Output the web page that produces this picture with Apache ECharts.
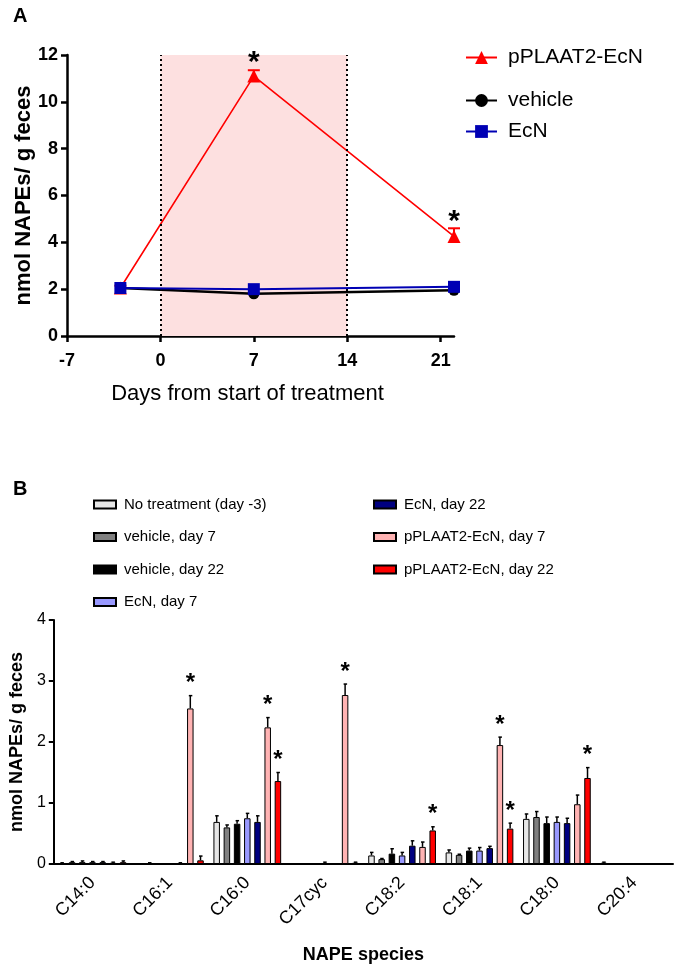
<!DOCTYPE html>
<html><head><meta charset="utf-8">
<script src="https://cdn.jsdelivr.net/npm/echarts@6/dist/echarts.min.js"></script>
<style>html,body{margin:0;padding:0;background:#fff}#c{width:678px;height:975px}</style>
</head><body><div id="c"></div>
<script>
// ---------- Panel A data ----------
const daysA = [-3, 7, 22];
const pplaat2A = [2.05, 11.1, 4.25];
const pplaat2ErrA = [0.1, 0.25, 0.35];
const vehicleA = [2.05, 1.8, 1.95];
const ecnA = [2.05, 2.0, 2.1];
const xTicksA = [-7, 0, 7, 14, 21];
const treatmentWindow = [0, 14];
const starsA = [1, 2]; // indices into daysA with significance

// ---------- Panel B data ----------
const speciesB = ['C14:0', 'C16:1', 'C16:0', 'C17cyc', 'C18:2', 'C18:1', 'C18:0', 'C20:4'];
const groupNamesB = ['No treatment (day -3)', 'vehicle, day 7', 'vehicle, day 22', 'EcN, day 7', 'EcN, day 22', 'pPLAAT2-EcN, day 7', 'pPLAAT2-EcN, day 22'];
const noTreatB  = [0.01, 0.00, 0.69, 0.00, 0.14, 0.19, 0.74, 0.02];
const veh7B     = [0.03, 0.01, 0.60, 0.00, 0.08, 0.15, 0.77, 0.00];
const veh22B    = [0.03, 0.00, 0.66, 0.00, 0.17, 0.22, 0.67, 0.00];
const ecn7B     = [0.03, 0.00, 0.75, 0.01, 0.14, 0.22, 0.69, 0.00];
const ecn22B    = [0.03, 0.01, 0.69, 0.00, 0.30, 0.26, 0.67, 0.00];
const pp7B      = [0.02, 2.55, 2.24, 2.77, 0.28, 1.95, 0.98, 0.00];
const pp22B     = [0.03, 0.06, 1.36, 0.02, 0.55, 0.58, 1.41, 0.00];
const noTreatErrB = [0.01, 0.00, 0.10, 0.00, 0.05, 0.04, 0.08, 0.01];
const veh7ErrB    = [0.01, 0.01, 0.04, 0.00, 0.01, 0.01, 0.09, 0.00];
const veh22ErrB   = [0.02, 0.00, 0.05, 0.00, 0.08, 0.04, 0.10, 0.00];
const ecn7ErrB    = [0.01, 0.00, 0.08, 0.02, 0.05, 0.05, 0.08, 0.00];
const ecn22ErrB   = [0.01, 0.01, 0.10, 0.00, 0.08, 0.03, 0.08, 0.00];
const pp7ErrB     = [0.01, 0.21, 0.16, 0.18, 0.08, 0.13, 0.15, 0.00];
const pp22ErrB    = [0.02, 0.07, 0.14, 0.01, 0.06, 0.09, 0.17, 0.00];
// [species index, group index] with significance
const starsB = [[1, 5], [2, 5], [2, 6], [3, 5], [4, 6], [5, 5], [5, 6], [6, 6]];

// ---------- styles ----------
const FONT = 'Liberation Sans, Arial, sans-serif';
const colorsB = ['#e6e6e6', '#808080', '#000000', '#9999ff', '#000080', '#ffb3b3', '#ff0000'];
const BAR_W = 6.5, BAR_GAP = 0.57, PITCH = BAR_W * (1 + BAR_GAP);

const valsB = [noTreatB, veh7B, veh22B, ecn7B, ecn22B, pp7B, pp22B];
const errsB = [noTreatErrB, veh7ErrB, veh22ErrB, ecn7ErrB, ecn22ErrB, pp7ErrB, pp22ErrB];

const chart = echarts.init(document.getElementById('c'), null, {renderer: 'canvas'});

const errDataA = daysA.map((d, i) => [d, pplaat2A[i], pplaat2A[i] + pplaat2ErrA[i]]);
const starDataA = starsA.map(i => [daysA[i], pplaat2A[i] + pplaat2ErrA[i]]);

const errDataB = [];
valsB.forEach((arr, g) => arr.forEach((v, c) => errDataB.push([c, v, v + errsB[g][c], g])));
const starDataB = starsB.map(([c, g]) => [c, valsB[g][c] + errsB[g][c], g]);

const barSeriesB = groupNamesB.map((name, g) => ({
  name, type: 'bar', xAxisIndex: 1, yAxisIndex: 1,
  data: valsB[g], barWidth: BAR_W, barGap: (BAR_GAP * 100) + '%',
  itemStyle: {color: colorsB[g], borderColor: '#000', borderWidth: 1},
  emphasis: {disabled: true}, z: 2
}));

const legA = (name, top) => ({data: [name], left: 460, top, itemWidth: 31, itemHeight: 16, selectedMode: false,
  textStyle: {fontSize: 21, color: '#000', padding: [0, 0, 0, 6]}});
const legB = (names, left) => ({data: names, orient: 'vertical', left, top: 491, itemWidth: 22, itemHeight: 8,
  icon: 'rect', itemGap: 15.5, selectedMode: false,
  textStyle: {fontSize: 15, lineHeight: 17, color: '#000', padding: [0, 0, 0, 3]}});

const option = {
  animation: false,
  textStyle: {fontFamily: FONT},
  graphic: [
    {type: 'text', left: 13, top: 6, style: {text: 'A', font: 'bold 20px ' + FONT, fill: '#000'}},
    {type: 'text', left: 13, top: 479, style: {text: 'B', font: 'bold 20px ' + FONT, fill: '#000'}}
  ],
  legend: [
    legA('pPLAAT2-EcN', 42), legA('vehicle', 85), legA('EcN', 116),
    legB(groupNamesB.slice(0, 4), 88), legB(groupNamesB.slice(4), 368)
  ],
  grid: [
    {left: 67, top: 55, width: 387, height: 281},
    {left: 51, top: 620, width: 622, height: 244}
  ],
  xAxis: [
    {type: 'value', gridIndex: 0, min: -7, max: 22,
     axisLine: {onZero: false, lineStyle: {color: '#000', width: 2.5}},
     axisTick: {customValues: xTicksA, length: 6, lineStyle: {width: 2.5, color: '#000'}},
     axisLabel: {customValues: xTicksA, fontSize: 18, fontWeight: 'bold', color: '#000', margin: 16},
     splitLine: {show: false},
     name: 'Days from start of treatment', nameLocation: 'middle', nameGap: 47,
     nameTextStyle: {fontSize: 22, color: '#000', padding: [0, 26, 0, 0]}},
    {type: 'category', gridIndex: 1, data: speciesB, boundaryGap: true,
     axisLine: {onZero: false, lineStyle: {color: '#000', width: 2}},
     axisTick: {alignWithLabel: true, length: 6, lineStyle: {width: 2, color: '#000'}},
     axisLabel: {rotate: 45, fontSize: 18, color: '#000', margin: 16, interval: 0},
     name: 'NAPE species', nameLocation: 'middle', nameGap: 82,
     nameTextStyle: {fontSize: 18, fontWeight: 'bold', color: '#000'}}
  ],
  yAxis: [
    {type: 'value', gridIndex: 0, min: 0, max: 12, interval: 2,
     axisLine: {show: true, onZero: false, lineStyle: {color: '#000', width: 2.5}},
     axisTick: {show: true, length: 6, lineStyle: {width: 2.5, color: '#000'}},
     axisLabel: {fontSize: 18, fontWeight: 'bold', color: '#000', margin: 9},
     splitLine: {show: false},
     name: 'nmol NAPEs/ g feces', nameLocation: 'middle', nameGap: 32, nameMoveOverlap: false,
     nameTextStyle: {fontSize: 22, fontWeight: 'bold', color: '#000'}},
    {type: 'value', gridIndex: 1, min: 0, max: 4, interval: 1,
     axisLine: {show: true, onZero: false, lineStyle: {color: '#000', width: 2}},
     axisTick: {show: true, length: 5, lineStyle: {width: 2, color: '#000'}},
     axisLabel: {fontSize: 16, color: '#000', margin: 8},
     splitLine: {show: false},
     name: 'nmol NAPEs/ g feces', nameLocation: 'middle', nameGap: 25,
     nameTextStyle: {fontSize: 18, fontWeight: 'bold', color: '#000'}}
  ],
  series: [
    {type: 'line', xAxisIndex: 0, yAxisIndex: 0, data: [], z: 1, silent: true,
     markArea: {silent: true, itemStyle: {color: '#fde0e0'}, data: [[{xAxis: treatmentWindow[0]}, {xAxis: treatmentWindow[1]}]]},
     markLine: {silent: true, symbol: 'none', label: {show: false},
       lineStyle: {type: [2, 3], color: '#000', width: 2},
       data: treatmentWindow.map(v => ({xAxis: v}))}},
    {name: 'pPLAAT2-EcN', type: 'line', xAxisIndex: 0, yAxisIndex: 0, z: 3,
     data: daysA.map((d, i) => [d, pplaat2A[i]]), symbol: 'triangle', symbolSize: 13,
     itemStyle: {color: '#ff0000'}, lineStyle: {color: '#ff0000', width: 1.6}},
    {type: 'custom', xAxisIndex: 0, yAxisIndex: 0, z: 3, data: errDataA, silent: true,
     renderItem(params, api) {
       const p0 = api.coord([api.value(0), api.value(1)]);
       const p1 = api.coord([api.value(0), api.value(2)]);
       return {type: 'group', children: [
         {type: 'line', shape: {x1: p0[0], y1: p0[1], x2: p1[0], y2: p1[1]}, style: {stroke: '#ff0000', lineWidth: 2}},
         {type: 'line', shape: {x1: p1[0] - 6, y1: p1[1], x2: p1[0] + 6, y2: p1[1]}, style: {stroke: '#ff0000', lineWidth: 2}}
       ]};
     }},
    {name: 'vehicle', type: 'line', xAxisIndex: 0, yAxisIndex: 0, z: 4,
     data: daysA.map((d, i) => [d, vehicleA[i]]), symbol: 'circle', symbolSize: 11,
     itemStyle: {color: '#000'}, lineStyle: {color: '#000', width: 2.5}},
    {name: 'EcN', type: 'line', xAxisIndex: 0, yAxisIndex: 0, z: 5,
     data: daysA.map((d, i) => [d, ecnA[i]]), symbol: 'rect', symbolSize: 12,
     itemStyle: {color: '#0000b4'}, lineStyle: {color: '#0000b4', width: 2}},
    {type: 'custom', xAxisIndex: 0, yAxisIndex: 0, z: 6, data: starDataA, silent: true,
     renderItem(params, api) {
       const p = api.coord([api.value(0), api.value(1)]);
       return {type: 'text', x: p[0], y: p[1] - 7, style: {text: '*', font: 'bold 30px ' + FONT, fill: '#000', align: 'center', verticalAlign: 'middle'}};
     }},
    ...barSeriesB,
    {type: 'custom', xAxisIndex: 1, yAxisIndex: 1, z: 3, data: errDataB, silent: true,
     renderItem(params, api) {
       const g = api.value(3);
       const p0 = api.coord([api.value(0), api.value(1)]);
       const p1 = api.coord([api.value(0), api.value(2)]);
       const x = p0[0] + (g - 3) * PITCH;
       if (api.value(2) - api.value(1) <= 0) return null;
       return {type: 'group', children: [
         {type: 'line', shape: {x1: x, y1: p0[1], x2: x, y2: p1[1]}, style: {stroke: '#000', lineWidth: 1.5}},
         {type: 'line', shape: {x1: x - 1.5, y1: p1[1], x2: x + 2, y2: p1[1]}, style: {stroke: '#000', lineWidth: 1.5}}
       ]};
     }},
    {type: 'custom', xAxisIndex: 1, yAxisIndex: 1, z: 4, data: starDataB, silent: true,
     renderItem(params, api) {
       const g = api.value(2);
       const p = api.coord([api.value(0), api.value(1)]);
       const x = p[0] + (g - 3) * PITCH;
       return {type: 'text', x: x, y: p[1] - 12, style: {text: '*', font: 'bold 24px ' + FONT, fill: '#000', align: 'center', verticalAlign: 'middle'}};
     }}
  ]
};
chart.setOption(option);
</script></body></html>
